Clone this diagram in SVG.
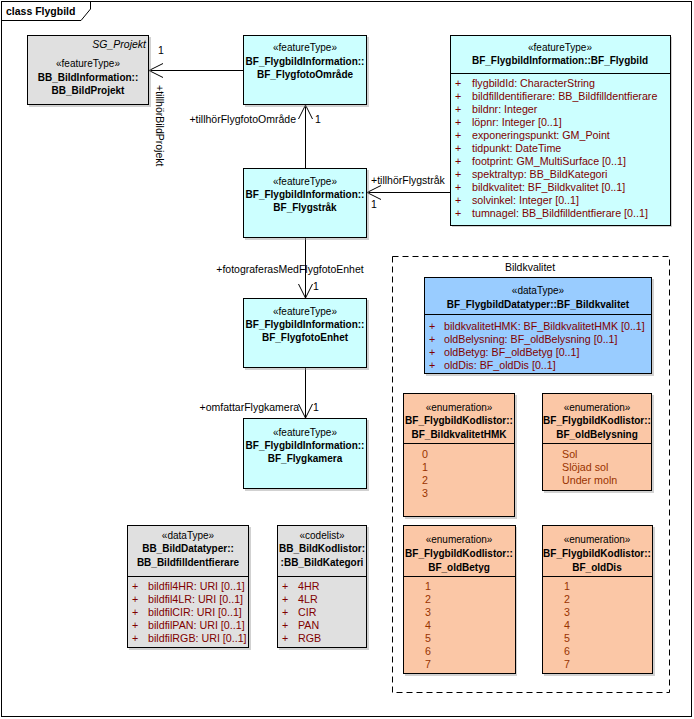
<svg xmlns="http://www.w3.org/2000/svg" width="694" height="719" viewBox="0 0 694 719">
<style>
text{font-family:"Liberation Sans",Arial,sans-serif;font-size:10.5px;fill:#000}
.st{font-size:10px;text-anchor:middle}
.tt{font-weight:bold;font-size:10px;text-anchor:middle}
.at{fill:#800000;font-size:10.7px}
.ev{fill:#993300;font-size:10.7px}
.box{stroke:#000;stroke-width:1}
.cy{fill:#CCFFFF}
.gr{fill:#E0E0E0}
.bl{fill:#99CCFF}
.sa{fill:#FBC7A6}
.sh{fill:#999;opacity:0.45}
.sep{stroke:#000;stroke-width:1}
.ln{stroke:#000;stroke-width:1;fill:none}
</style>
<rect x="0" y="0" width="694" height="719" fill="#fff"/>
<g id="frame">
<rect x="1.5" y="1.5" width="690" height="715" fill="none" stroke="#000"/>
<path d="M1.5,20.5 H81 L90.5,9 V1.5" fill="none" stroke="#000"/>
<text x="6" y="15" style="font-weight:bold;font-size:10.5px">class Flygbild</text>
</g>
<g id="pkg_Bildkvalitet">
<rect x="392.5" y="256.5" width="277" height="436" fill="none" stroke="#000" stroke-dasharray="6,4"/>
<text x="530" y="271" style="text-anchor:middle">Bildkvalitet</text>
</g>
<g id="connectors">
<line class="ln" x1="243" y1="70.5" x2="149" y2="70.5"/>
<polyline class="ln" points="163,63.5 149,70.5 163,77.5"/>
<text x="158" y="54">1</text>
<text transform="translate(156,85) rotate(90)">+tillhörBildProjekt</text>
<line class="ln" x1="305.5" y1="168" x2="305.5" y2="105"/>
<polyline class="ln" points="298.5,119 305.5,105 312.5,119"/>
<text x="296" y="123" style="text-anchor:end">+tillhörFlygfotoOmråde</text>
<text x="315" y="123">1</text>
<line class="ln" x1="450" y1="192.5" x2="367" y2="192.5"/>
<polyline class="ln" points="381,185.5 367,192.5 381,199.5"/>
<text x="371" y="184">+tillhörFlygstråk</text>
<text x="371" y="208">1</text>
<line class="ln" x1="305.5" y1="238" x2="305.5" y2="298"/>
<polyline class="ln" points="298.5,284 305.5,298 312.5,284"/>
<text x="290" y="273" style="text-anchor:middle">+fotograferasMedFlygfotoEnhet</text>
<text x="313" y="290">1</text>
<line class="ln" x1="305.5" y1="368" x2="305.5" y2="418"/>
<polyline class="ln" points="298.5,404 305.5,418 312.5,404"/>
<text x="299" y="411" style="text-anchor:end">+omfattarFlygkamera</text>
<text x="313" y="411">1</text>
</g>
<g id="BB_BildProjekt">
<rect class="sh" x="29" y="37" width="122" height="70"/>
<rect class="box gr" x="27.5" y="35.5" width="121" height="69"/>
<text x="146" y="48" style="font-style:italic;text-anchor:end">SG_Projekt</text>
<text class="st" x="88" y="67">«featureType»</text>
<text class="tt" x="88" y="81">BB_BildInformation::</text>
<text class="tt" x="88" y="94">BB_BildProjekt</text>
</g>
<g id="BF_FlygfotoOmrade">
<rect class="sh" x="245" y="37" width="124" height="70"/>
<rect class="box cy" x="243.5" y="35.5" width="123" height="69"/>
<text class="st" x="305" y="51">«featureType»</text>
<text class="tt" x="305" y="65">BF_FlygbildInformation::</text>
<text class="tt" x="305" y="78">BF_FlygfotoOmråde</text>
</g>
<g id="BF_Flygbild">
<rect class="sh" x="452" y="37" width="220" height="190"/>
<rect class="box cy" x="450.5" y="35.5" width="220" height="190"/>
<line class="sep" x1="450.5" y1="73.5" x2="670.5" y2="73.5"/>
<text class="st" x="560" y="51">«featureType»</text>
<text class="tt" x="560" y="64">BF_FlygbildInformation::BF_Flygbild</text>
<text class="at" x="455" y="87">+</text><text class="at" x="472" y="87">flygbildId: CharacterString</text>
<text class="at" x="455" y="100">+</text><text class="at" x="472" y="100">bildfilldentifierare: BB_Bildfilldentfierare</text>
<text class="at" x="455" y="113">+</text><text class="at" x="472" y="113">bildnr: Integer</text>
<text class="at" x="455" y="126">+</text><text class="at" x="472" y="126">löpnr: Integer [0..1]</text>
<text class="at" x="455" y="139">+</text><text class="at" x="472" y="139">exponeringspunkt: GM_Point</text>
<text class="at" x="455" y="152">+</text><text class="at" x="472" y="152">tidpunkt: DateTime</text>
<text class="at" x="455" y="165">+</text><text class="at" x="472" y="165">footprint: GM_MultiSurface [0..1]</text>
<text class="at" x="455" y="178">+</text><text class="at" x="472" y="178">spektraltyp: BB_BildKategori</text>
<text class="at" x="455" y="191">+</text><text class="at" x="472" y="191">bildkvalitet: BF_Bildkvalitet [0..1]</text>
<text class="at" x="455" y="204">+</text><text class="at" x="472" y="204">solvinkel: Integer [0..1]</text>
<text class="at" x="455" y="217">+</text><text class="at" x="472" y="217">tumnagel: BB_Bildfilldentfierare [0..1]</text>
</g>
<g id="BF_Flygstrak">
<rect class="sh" x="245" y="170" width="124" height="70"/>
<rect class="box cy" x="243.5" y="168.5" width="123" height="69"/>
<text class="st" x="305" y="185">«featureType»</text>
<text class="tt" x="305" y="198">BF_FlygbildInformation::</text>
<text class="tt" x="305" y="211">BF_Flygstråk</text>
</g>
<g id="BF_FlygfotoEnhet">
<rect class="sh" x="245" y="300" width="124" height="70"/>
<rect class="box cy" x="243.5" y="298.5" width="123" height="69"/>
<text class="st" x="305" y="315">«featureType»</text>
<text class="tt" x="305" y="328">BF_FlygbildInformation::</text>
<text class="tt" x="305" y="341">BF_FlygfotoEnhet</text>
</g>
<g id="BF_Flygkamera">
<rect class="sh" x="245" y="420" width="124" height="71"/>
<rect class="box cy" x="243.5" y="418.5" width="123" height="70"/>
<text class="st" x="305" y="436">«featureType»</text>
<text class="tt" x="305" y="449">BF_FlygbildInformation::</text>
<text class="tt" x="305" y="462">BF_Flygkamera</text>
</g>
<g id="BF_Bildkvalitet">
<rect class="sh" x="426" y="279" width="228" height="97"/>
<rect class="box bl" x="424.5" y="277.5" width="227" height="96"/>
<line class="sep" x1="424.5" y1="314.5" x2="651.5" y2="314.5"/>
<text class="st" x="538" y="294">«dataType»</text>
<text class="tt" x="538" y="308">BF_FlygbildDatatyper::BF_Bildkvalitet</text>
<text class="at" x="429" y="330">+</text><text class="at" x="444" y="330">bildkvalitetHMK: BF_BildkvalitetHMK [0..1]</text>
<text class="at" x="429" y="343">+</text><text class="at" x="444" y="343">oldBelysning: BF_oldBelysning [0..1]</text>
<text class="at" x="429" y="356">+</text><text class="at" x="444" y="356">oldBetyg: BF_oldBetyg [0..1]</text>
<text class="at" x="429" y="369">+</text><text class="at" x="444" y="369">oldDis: BF_oldDis [0..1]</text>
</g>
<g id="BF_BildkvalitetHMK">
<rect class="sh" x="405" y="395" width="112" height="124"/>
<rect class="box sa" x="403.5" y="393.5" width="111" height="123"/>
<line class="sep" x1="403.5" y1="443.5" x2="514.5" y2="443.5"/>
<text class="st" x="459" y="411">«enumeration»</text>
<text class="tt" x="459" y="424">BF_FlygbildKodlistor::</text>
<text class="tt" x="459" y="438">BF_BildkvalitetHMK</text>
<text class="ev" x="422" y="458">0</text>
<text class="ev" x="422" y="471">1</text>
<text class="ev" x="422" y="484">2</text>
<text class="ev" x="422" y="497">3</text>
</g>
<g id="BF_oldBelysning">
<rect class="sh" x="544" y="395" width="110" height="98"/>
<rect class="box sa" x="542.5" y="393.5" width="109" height="97"/>
<line class="sep" x1="542.5" y1="443.5" x2="651.5" y2="443.5"/>
<text class="st" x="597" y="411">«enumeration»</text>
<text class="tt" x="597" y="424">BF_FlygbildKodlistor::</text>
<text class="tt" x="597" y="438">BF_oldBelysning</text>
<text class="ev" x="562" y="458">Sol</text>
<text class="ev" x="562" y="471">Slöjad sol</text>
<text class="ev" x="562" y="484">Under moln</text>
</g>
<g id="BF_oldBetyg">
<rect class="sh" x="405" y="527" width="112" height="149"/>
<rect class="box sa" x="403.5" y="525.5" width="112" height="148"/>
<line class="sep" x1="403.5" y1="576.5" x2="515.5" y2="576.5"/>
<text class="st" x="459" y="543">«enumeration»</text>
<text class="tt" x="459" y="557">BF_FlygbildKodlistor::</text>
<text class="tt" x="459" y="571">BF_oldBetyg</text>
<text class="ev" x="425" y="590">1</text>
<text class="ev" x="425" y="603">2</text>
<text class="ev" x="425" y="616">3</text>
<text class="ev" x="425" y="629">4</text>
<text class="ev" x="425" y="642">5</text>
<text class="ev" x="425" y="655">6</text>
<text class="ev" x="425" y="668">7</text>
</g>
<g id="BF_oldDis">
<rect class="sh" x="544" y="527" width="111" height="149"/>
<rect class="box sa" x="542.5" y="525.5" width="110" height="148"/>
<line class="sep" x1="542.5" y1="576.5" x2="652.5" y2="576.5"/>
<text class="st" x="597" y="543">«enumeration»</text>
<text class="tt" x="597" y="557">BF_FlygbildKodlistor::</text>
<text class="tt" x="597" y="571">BF_oldDis</text>
<text class="ev" x="564" y="590">1</text>
<text class="ev" x="564" y="603">2</text>
<text class="ev" x="564" y="616">3</text>
<text class="ev" x="564" y="629">4</text>
<text class="ev" x="564" y="642">5</text>
<text class="ev" x="564" y="655">6</text>
<text class="ev" x="564" y="668">7</text>
</g>
<g id="BB_Bildfilldentfierare">
<rect class="sh" x="129" y="527" width="122" height="123"/>
<rect class="box gr" x="127.5" y="525.5" width="121" height="122"/>
<line class="sep" x1="127.5" y1="576.5" x2="248.5" y2="576.5"/>
<text class="st" x="188" y="539">«dataType»</text>
<text class="tt" x="188" y="552">BB_BildDatatyper::</text>
<text class="tt" x="188" y="566">BB_Bildfilldentfierare</text>
<text class="at" x="132" y="590">+</text><text class="at" x="148" y="590">bildfil4HR: URI [0..1]</text>
<text class="at" x="132" y="603">+</text><text class="at" x="148" y="603">bildfil4LR: URI [0..1]</text>
<text class="at" x="132" y="616">+</text><text class="at" x="148" y="616">bildfilCIR: URI [0..1]</text>
<text class="at" x="132" y="629">+</text><text class="at" x="148" y="629">bildfilPAN: URI [0..1]</text>
<text class="at" x="132" y="642">+</text><text class="at" x="148" y="642">bildfilRGB: URI [0..1]</text>
</g>
<g id="BB_BildKategori">
<rect class="sh" x="279" y="527" width="90" height="123"/>
<rect class="box gr" x="277.5" y="525.5" width="89" height="122"/>
<line class="sep" x1="277.5" y1="576.5" x2="366.5" y2="576.5"/>
<text class="st" x="322" y="539">«codelist»</text>
<text class="tt" x="322" y="552">BB_BildKodlistor:</text>
<text class="tt" x="322" y="566">:BB_BildKategori</text>
<text class="at" x="282" y="590">+</text><text class="at" x="298" y="590">4HR</text>
<text class="at" x="282" y="603">+</text><text class="at" x="298" y="603">4LR</text>
<text class="at" x="282" y="616">+</text><text class="at" x="298" y="616">CIR</text>
<text class="at" x="282" y="629">+</text><text class="at" x="298" y="629">PAN</text>
<text class="at" x="282" y="642">+</text><text class="at" x="298" y="642">RGB</text>
</g>
</svg>
